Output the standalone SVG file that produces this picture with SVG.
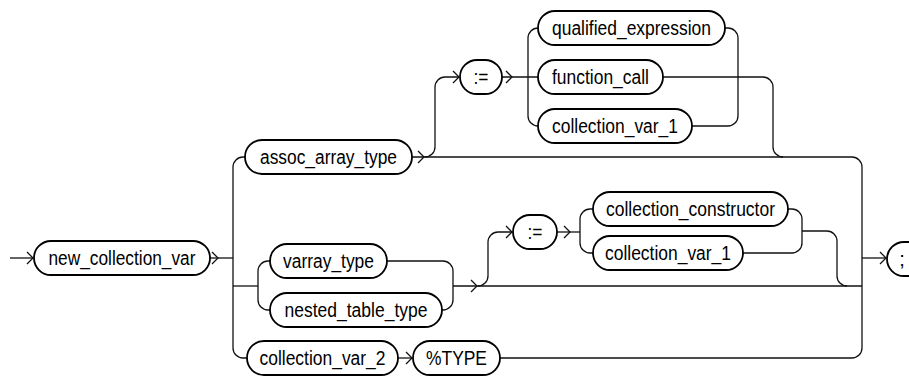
<svg xmlns="http://www.w3.org/2000/svg" width="909" height="377" viewBox="0 0 909 377">
<style>
.box{fill:#fff;stroke:#000;stroke-width:1.8}
.t{font-family:"Liberation Sans",Arial,sans-serif;font-size:20px;fill:#000;text-anchor:middle}
.c{fill:none;stroke:#111;stroke-width:1.3}
.a{fill:none;stroke:#111;stroke-width:1.3}
</style>
<rect width="909" height="377" fill="#fff"/>
<g id="connectors">
<path class="c" d="M10 258 H33"/>
<path class="a" d="M27 252 L33 258 L27 264"/>
<path class="c" d="M210 258 H233"/>
<path class="a" d="M212 252 L218 258 L212 264"/>
<path class="c" d="M245 157 H243 A10 10 0 0 0 233 167 V348 A10 10 0 0 0 243 358 H247"/>
<path class="c" d="M412 157 H852 A10 10 0 0 1 862 167 V348 A10 10 0 0 1 852 358 H500"/>
<path class="a" d="M418 151 L424 157 L418 163"/>
<path class="c" d="M425 157 A10 10 0 0 0 435 147 V87 A10 10 0 0 1 445 77 H459"/>
<path class="a" d="M453 71 L459 77 L453 83"/>
<path class="c" d="M502 77 H538"/>
<path class="a" d="M506 71 L512 77 L506 83"/>
<path class="c" d="M538 28 A10 10 0 0 0 528 38 V116 A10 10 0 0 0 538 126"/>
<path class="c" d="M725 28 H728 A10 10 0 0 1 738 38 V116 A10 10 0 0 1 728 126 H692"/>
<path class="c" d="M663 77 H763 A10 10 0 0 1 773 87 V147 A10 10 0 0 0 783 157"/>
<path class="c" d="M233 286 H258"/>
<path class="c" d="M270 261 H268 A10 10 0 0 0 258 271 V300 A10 10 0 0 0 268 310 H270"/>
<path class="c" d="M387 261 H443 A10 10 0 0 1 453 271 V300 A10 10 0 0 1 443 310 H442"/>
<path class="c" d="M453 286 H862"/>
<path class="a" d="M471 280 L477 286 L471 292"/>
<path class="c" d="M478 286 A10 10 0 0 0 488 276 V242 A10 10 0 0 1 498 232 H512"/>
<path class="a" d="M506 226 L512 232 L506 238"/>
<path class="c" d="M557 232 H580"/>
<path class="a" d="M564 226 L570 232 L564 238"/>
<path class="c" d="M593 209 H590 A10 10 0 0 0 580 219 V243 A10 10 0 0 0 590 253 H593"/>
<path class="c" d="M788 209 H792 A10 10 0 0 1 802 219 V243 A10 10 0 0 1 792 253 H743"/>
<path class="c" d="M802 231 H827 A10 10 0 0 1 837 241 V276 A10 10 0 0 0 847 286"/>
<path class="c" d="M862 258 H886"/>
<path class="a" d="M880 252 L886 258 L880 264"/>
<path class="c" d="M398 358 H412"/>
<path class="a" d="M406 352 L412 358 L406 364"/>
</g>
<g id="new_collection_var"><rect class="box" x="34" y="241" width="176" height="34" rx="17"/><text class="t" x="122" y="265" textLength="147" lengthAdjust="spacingAndGlyphs">new_collection_var</text></g>
<g id="assoc_array_type"><rect class="box" x="245" y="140" width="167" height="34" rx="17"/><text class="t" x="328.5" y="164" textLength="137" lengthAdjust="spacingAndGlyphs">assoc_array_type</text></g>
<g id="assign1"><rect class="box" x="460" y="60" width="42" height="34" rx="17"/><text class="t" x="481" y="84" textLength="15" lengthAdjust="spacingAndGlyphs">:=</text></g>
<g id="qualified_expression"><rect class="box" x="538" y="11" width="187" height="34" rx="17"/><text class="t" x="631.5" y="35" textLength="159" lengthAdjust="spacingAndGlyphs">qualified_expression</text></g>
<g id="function_call"><rect class="box" x="538" y="60" width="125" height="34" rx="17"/><text class="t" x="600.5" y="84" textLength="97" lengthAdjust="spacingAndGlyphs">function_call</text></g>
<g id="collection_var_1a"><rect class="box" x="538" y="109" width="154" height="34" rx="17"/><text class="t" x="615" y="133" textLength="126" lengthAdjust="spacingAndGlyphs">collection_var_1</text></g>
<g id="varray_type"><rect class="box" x="270" y="244" width="117" height="34" rx="17"/><text class="t" x="328.5" y="268" textLength="91" lengthAdjust="spacingAndGlyphs">varray_type</text></g>
<g id="nested_table_type"><rect class="box" x="270" y="293" width="172" height="34" rx="17"/><text class="t" x="356" y="317" textLength="143" lengthAdjust="spacingAndGlyphs">nested_table_type</text></g>
<g id="assign2"><rect class="box" x="513" y="215" width="44" height="34" rx="17"/><text class="t" x="535" y="239" textLength="15" lengthAdjust="spacingAndGlyphs">:=</text></g>
<g id="collection_constructor"><rect class="box" x="593" y="192" width="195" height="34" rx="17"/><text class="t" x="690.5" y="216" textLength="169" lengthAdjust="spacingAndGlyphs">collection_constructor</text></g>
<g id="collection_var_1b"><rect class="box" x="593" y="236" width="150" height="34" rx="17"/><text class="t" x="668" y="260" textLength="126" lengthAdjust="spacingAndGlyphs">collection_var_1</text></g>
<g id="collection_var_2"><rect class="box" x="247" y="341" width="151" height="34" rx="17"/><text class="t" x="322.5" y="365" textLength="126" lengthAdjust="spacingAndGlyphs">collection_var_2</text></g>
<g id="pct_type"><rect class="box" x="413" y="341" width="87" height="34" rx="17"/><text class="t" x="456.5" y="365" textLength="61" lengthAdjust="spacingAndGlyphs">%TYPE</text></g>
<g id="semicolon"><rect class="box" x="887" y="242" width="40" height="34" rx="17"/><text class="t" x="902" y="266">;</text></g>
</svg>
